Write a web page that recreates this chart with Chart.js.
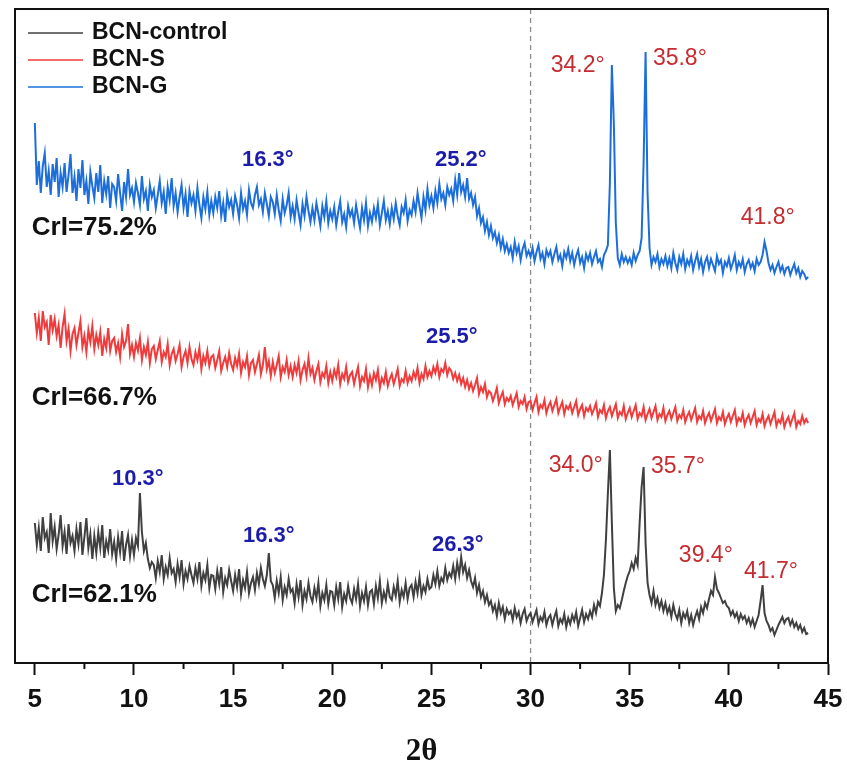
<!DOCTYPE html>
<html>
<head>
<meta charset="utf-8">
<title>XRD patterns</title>
<script src="https://cdn.jsdelivr.net/npm/chart.js@4.4.1/dist/chart.umd.min.js"></script>
<style>
  html, body { margin: 0; padding: 0; background: #fff; }
  #xrdChart { display: block; }
</style>
</head>
<body>
<canvas id="xrdChart" width="847" height="774"></canvas>
<script>
// sampling grid of the scans (degrees 2theta)
const thetaStart = 5;
const thetaStep = 0.1;

const seriesNames = ['BCN-control', 'BCN-S', 'BCN-G'];
const xTickValues = [5, 10, 15, 20, 25, 30, 35, 40, 45];
const dashedAt = 30;

// intensity (a.u., curves stacked), one row = 1 degree, 5.0 .. 44.0
const controlCounts = [
  140, 118, 135, 112, 146, 125, 131, 110, 150, 122, // 5
  136, 114, 128, 148, 117, 131, 109, 139, 120, 127,
  112, 134, 119, 141, 108, 126, 145, 115, 129, 104,
  127, 110, 131, 115, 138, 105, 122, 113, 134, 109,
  121, 104, 126, 111, 132, 102, 118, 128, 107, 123,
  108, 125, 117, 170, 131, 112, 120, 104, 95, 101, // 10
  98, 85, 102, 91, 108, 84, 96, 88, 105, 90,
  94, 81, 99, 86, 103, 79, 92, 84, 97, 88,
  80, 95, 84, 101, 77, 90, 83, 98, 75, 88,
  87, 74, 92, 79, 96, 71, 85, 78, 93, 82,
  72, 88, 76, 94, 69, 83, 75, 91, 70, 80, // 15
  86, 73, 90, 79, 95, 84, 77, 88, 110, 82,
  78, 65, 82, 70, 86, 63, 76, 68, 84, 71,
  74, 60, 79, 66, 83, 58, 72, 64, 80, 67,
  61, 75, 65, 80, 57, 70, 63, 78, 59, 72,
  71, 58, 76, 64, 81, 56, 69, 62, 77, 65, // 20
  60, 74, 64, 79, 57, 70, 62, 76, 58, 71,
  73, 59, 77, 65, 82, 60, 71, 63, 79, 66,
  63, 76, 67, 82, 61, 73, 66, 80, 64, 75,
  78, 66, 81, 70, 86, 68, 77, 71, 84, 74,
  76, 88, 79, 92, 77, 85, 81, 95, 83, 90, // 25
  86, 97, 84, 100, 88, 106, 91, 98, 85, 93,
  82, 76, 85, 70, 78, 66, 72, 61, 68, 58,
  62, 52, 58, 47, 60, 50, 56, 44, 54, 49,
  52, 43, 55, 46, 51, 40, 49, 54, 42, 47,
  50, 41, 47, 53, 39, 46, 42, 51, 38, 45, // 30
  48, 38, 46, 52, 37, 44, 40, 49, 36, 45,
  39, 48, 42, 51, 37, 45, 53, 41, 49, 44,
  52, 46, 58, 50, 61, 57, 70, 88, 123, 170,
  213, 140, 75, 52, 58, 55, 63, 72, 80, 87,
  92, 100, 94, 105, 98, 140, 176, 196, 120, 80, // 35
  68, 60, 72, 58, 65, 55, 62, 52, 60, 50,
  56, 46, 58, 49, 44, 53, 40, 50, 45, 52,
  40, 48, 38, 46, 52, 44, 56, 50, 60, 55,
  64, 72, 68, 86, 74, 70, 65, 60, 62, 57,
  55, 48, 52, 46, 50, 42, 49, 44, 47, 40, // 40
  45, 38, 44, 36, 42, 48, 62, 78, 50, 42,
  38, 32, 35, 28, 33, 38, 42, 46, 40, 44,
  45, 38, 43, 36, 40, 34, 38, 31, 35, 29,
  30
];

const sCounts = [
  350, 330, 345, 322, 352, 336, 341, 318, 348, 333, // 5
  344, 327, 338, 315, 336, 349, 322, 334, 312, 329,
  335, 318, 330, 342, 316, 327, 311, 333, 321, 337,
  314, 328, 318, 331, 307, 324, 315, 335, 312, 322,
  325, 311, 320, 306, 329, 316, 322, 339, 309, 318,
  306, 320, 312, 325, 303, 316, 308, 321, 300, 314, // 10
  317, 304, 313, 322, 301, 311, 306, 319, 298, 309,
  314, 302, 309, 318, 296, 306, 312, 300, 316, 304,
  298, 311, 303, 315, 294, 307, 300, 312, 297, 306,
  308, 295, 303, 312, 292, 300, 306, 296, 310, 299,
  293, 305, 297, 309, 290, 301, 296, 307, 288, 300, // 15
  303, 291, 299, 308, 289, 298, 316, 294, 302, 287,
  301, 290, 298, 307, 286, 296, 291, 303, 288, 297,
  286, 298, 290, 302, 283, 293, 299, 287, 305, 289,
  295, 283, 292, 299, 281, 290, 286, 297, 280, 291,
  282, 293, 286, 298, 279, 289, 284, 296, 281, 288, // 20
  291, 279, 288, 296, 277, 286, 282, 294, 276, 287,
  278, 290, 283, 293, 275, 285, 280, 291, 277, 284,
  289, 279, 286, 294, 277, 284, 281, 292, 280, 287,
  282, 291, 285, 295, 280, 289, 284, 297, 286, 292,
  287, 296, 290, 299, 286, 294, 291, 300, 288, 295, // 25
  292, 284, 290, 282, 288, 279, 285, 276, 283, 274,
  280, 272, 278, 285, 269, 276, 271, 279, 266, 272,
  270, 262, 268, 275, 260, 266, 271, 259, 265, 262,
  267, 258, 264, 270, 256, 262, 259, 266, 254, 261,
  262, 253, 260, 266, 251, 258, 255, 263, 250, 257, // 30
  261, 252, 258, 264, 250, 256, 261, 249, 257, 254,
  259, 250, 256, 262, 248, 254, 258, 247, 255, 252,
  257, 249, 254, 260, 246, 253, 250, 258, 245, 252,
  256, 247, 253, 259, 245, 251, 248, 257, 244, 250,
  255, 246, 252, 258, 244, 250, 247, 256, 243, 249, // 35
  254, 245, 251, 257, 243, 249, 246, 255, 242, 248,
  252, 244, 250, 256, 242, 248, 245, 253, 241, 247,
  251, 243, 249, 255, 241, 247, 244, 252, 240, 246,
  250, 242, 248, 254, 240, 246, 243, 251, 239, 245,
  249, 241, 247, 253, 239, 245, 242, 250, 238, 244, // 40
  248, 240, 246, 252, 238, 244, 241, 249, 237, 243,
  247, 239, 245, 251, 237, 243, 240, 248, 236, 242,
  246, 238, 244, 250, 236, 242, 239, 247, 240, 244,
  240
];

const gCounts = [
  540, 478, 502, 470, 497, 510, 476, 492, 468, 499, // 5
  481, 505, 466, 490, 476, 500, 471, 488, 509, 470,
  486, 462, 494, 475, 503, 468, 482, 459, 491, 477,
  465, 490, 471, 498, 460, 482, 469, 487, 455, 479,
  476, 462, 489, 470, 452, 481, 466, 494, 468, 475,
  461, 480, 470, 458, 487, 464, 472, 452, 478, 466, // 10
  473, 455, 468, 482, 460, 471, 449, 476, 463, 485,
  457, 470, 451, 466, 478, 455, 469, 446, 472, 460,
  468, 452, 475, 458, 445, 466, 454, 471, 448, 462,
  450, 466, 455, 472, 447, 460, 441, 468, 456, 463,
  449, 467, 458, 445, 470, 454, 462, 448, 473, 460, // 15
  455, 468, 476, 458, 464, 451, 470, 459, 447, 466,
  461, 449, 468, 453, 442, 464, 450, 458, 470, 446,
  457, 444, 463, 450, 438, 459, 447, 466, 452, 441,
  455, 443, 460, 449, 437, 457, 446, 462, 440, 452,
  444, 456, 438, 451, 462, 441, 449, 436, 457, 447, // 20
  453, 440, 458, 446, 435, 455, 443, 460, 437, 450,
  441, 455, 445, 459, 438, 450, 462, 443, 452, 439,
  455, 444, 460, 447, 438, 456, 450, 463, 442, 453,
  448, 462, 451, 470, 457, 445, 466, 453, 474, 458,
  467, 455, 472, 460, 479, 464, 470, 458, 476, 468, // 25
  474, 462, 483, 468, 490, 471, 478, 466, 485, 464,
  470, 458, 466, 447, 455, 440, 446, 432, 441, 428,
  437, 425, 431, 420, 428, 415, 424, 412, 419, 410,
  416, 405, 421, 410, 417, 403, 414, 420, 407, 412,
  406, 415, 402, 411, 418, 404, 410, 399, 413, 407, // 30
  412, 401, 409, 416, 403, 408, 397, 411, 405, 414,
  402, 410, 398, 407, 413, 400, 406, 395, 409, 403,
  410, 399, 406, 412, 401, 404, 396, 408, 412, 418,
  480, 598, 540, 440, 405, 398, 409, 401, 406, 400,
  405, 398, 410, 402, 408, 412, 425, 500, 611, 470, // 35
  415, 398, 406, 401, 409, 396, 404, 399, 407, 397,
  405, 395, 410, 400, 393, 406, 399, 409, 394, 403,
  398, 407, 393, 402, 409, 396, 404, 391, 401, 406,
  395, 404, 398, 392, 407, 399, 403, 390, 401, 397,
  405, 394, 400, 408, 393, 401, 396, 404, 391, 399, // 40
  403, 395, 400, 392, 404, 398, 401, 408, 421, 412,
  400, 393, 398, 390, 396, 401, 392, 397, 389, 395,
  396, 388, 394, 399, 390, 395, 386, 392, 389, 384,
  386
];

// annotations: [2theta, intensity, text]
const amorphousLabels = [
  [16.75, 503, '16.3°'], [26.48, 503, '25.2°'],
  [26.03, 326, '25.5°'],
  [10.19, 184, '10.3°'], [16.8, 127, '16.3°'], [26.33, 118, '26.3°']
];
const crystalLabels = [
  [32.38, 597, '34.2°'], [37.53, 604, '35.8°'], [41.96, 445, '41.8°'],
  [32.28, 197, '34.0°'], [37.43, 196, '35.7°'], [38.84, 107, '39.4°'], [42.12, 91, '41.7°']
];
const criLabels = [
  [8.0, 435, 'CrI=75.2%'], [8.0, 265, 'CrI=66.7%'], [8.0, 68, 'CrI=62.1%']
];

const toPoints = (counts) => counts.map((v, i) => ({ x: +(thetaStart + i * thetaStep).toFixed(1), y: v }));

const SANS = "'Liberation Sans', Arial, sans-serif";
const lineColors = ['#404040', '#ef3b3b', '#1c6fdb'];

const decorPlugin = {
  id: 'decor',
  beforeDatasetsDraw(chart) {
    const { ctx, chartArea: a, scales: { x } } = chart;
    const px = x.getPixelForValue(dashedAt);
    ctx.save();
    ctx.strokeStyle = '#8c8c8c';
    ctx.lineWidth = 1.3;
    ctx.setLineDash([5, 4]);
    ctx.beginPath();
    ctx.moveTo(px, a.top);
    ctx.lineTo(px, a.bottom);
    ctx.stroke();
    ctx.restore();
  },
  afterDraw(chart) {
    const { ctx, chartArea: a, scales: { x, y } } = chart;
    ctx.save();

    // frame (bottom side comes from the x axis border)
    ctx.strokeStyle = '#111';
    ctx.lineWidth = 2;
    ctx.beginPath();
    ctx.moveTo(a.left, a.bottom);
    ctx.lineTo(a.left, a.top);
    ctx.lineTo(a.right, a.top);
    ctx.lineTo(a.right, a.bottom);
    ctx.stroke();

    // minor ticks
    for (let v = 7.5; v < 45; v += 5) {
      const px = x.getPixelForValue(v);
      ctx.beginPath();
      ctx.moveTo(px, a.bottom);
      ctx.lineTo(px, a.bottom + 6);
      ctx.stroke();
    }

    ctx.textAlign = 'center';
    ctx.textBaseline = 'middle';

    ctx.fillStyle = '#1c1caa';
    ctx.font = 'bold 22px ' + SANS;
    amorphousLabels.forEach(([t, c, s]) => ctx.fillText(s, x.getPixelForValue(t), y.getPixelForValue(c)));

    ctx.fillStyle = '#c62b30';
    ctx.font = '23px ' + SANS;
    crystalLabels.forEach(([t, c, s]) => ctx.fillText(s, x.getPixelForValue(t), y.getPixelForValue(c)));

    ctx.fillStyle = '#111';
    ctx.font = 'bold 26px ' + SANS;
    criLabels.forEach(([t, c, s]) => ctx.fillText(s, x.getPixelForValue(t), y.getPixelForValue(c)));

    // legend, top left inside the frame
    ctx.textAlign = 'left';
    ctx.font = 'bold 23px ' + SANS;
    chart.data.datasets.forEach((ds, i) => {
      const ly = a.top + 24 + i * 27;
      ctx.strokeStyle = ds.borderColor;
      ctx.lineWidth = 1.5;
      ctx.beginPath();
      ctx.moveTo(a.left + 13, ly);
      ctx.lineTo(a.left + 68, ly);
      ctx.stroke();
      ctx.fillStyle = '#111';
      ctx.fillText(ds.label, a.left + 77, ly);
    });

    ctx.restore();
  }
};

new Chart(document.getElementById('xrdChart').getContext('2d'), {
  type: 'line',
  data: {
    datasets: [
      { label: seriesNames[0], data: toPoints(controlCounts), borderColor: lineColors[0] },
      { label: seriesNames[1], data: toPoints(sCounts), borderColor: lineColors[1] },
      { label: seriesNames[2], data: toPoints(gCounts), borderColor: lineColors[2] },
    ],
  },
  options: {
    responsive: false,
    animation: false,
    layout: { padding: { left: 15, right: 19, top: 9, bottom: 0 } },
    elements: {
      point: { radius: 0 },
      line: { borderWidth: 2, tension: 0 },
    },
    plugins: {
      legend: { display: false },
      tooltip: { enabled: false },
    },
    scales: {
      x: {
        type: 'linear',
        min: 4,
        max: 45,
        afterBuildTicks: (scale) => {
          scale.ticks = xTickValues.map((v) => ({ value: v }));
        },
        afterFit: (scale) => {
          // keep the frame where the figure has it, labels may overhang
          scale.height = 111;
          scale.paddingLeft = 0;
          scale.paddingRight = 0;
        },
        border: { display: true, color: '#111', width: 2 },
        grid: { drawOnChartArea: false, drawTicks: true, tickLength: 12, tickWidth: 2, tickColor: '#111' },
        ticks: {
          autoSkip: false,
          maxRotation: 0,
          padding: 9,
          color: '#111',
          font: { family: SANS, size: 26, weight: 'bold' },
        },
        title: {
          display: true,
          text: '2θ',
          color: '#111',
          font: { family: "'Liberation Serif', 'Times New Roman', serif", size: 31, weight: 'bold' },
          padding: { top: 0, bottom: 3 },
        },
      },
      y: { display: false, min: 0, max: 654 },
    },
  },
  plugins: [decorPlugin],
});
</script>
</body>
</html>
